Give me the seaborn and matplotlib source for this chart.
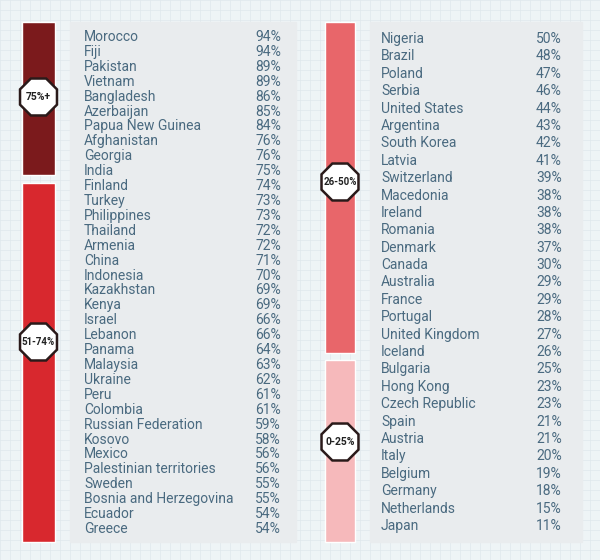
import matplotlib
matplotlib.use("Agg")
import matplotlib.pyplot as plt
import seaborn as sns
from matplotlib.patches import RegularPolygon, Rectangle

left_countries = ["Morocco","Fiji","Pakistan","Vietnam","Bangladesh","Azerbaijan","Papua New Guinea",
    "Afghanistan","Georgia","India","Finland","Turkey","Philippines","Thailand","Armenia","China",
    "Indonesia","Kazakhstan","Kenya","Israel","Lebanon","Panama","Malaysia","Ukraine","Peru","Colombia",
    "Russian Federation","Kosovo","Mexico","Palestinian territories","Sweden","Bosnia and Herzegovina",
    "Ecuador","Greece"]
left_values = [94,94,89,89,86,85,84,76,76,75,74,73,73,72,72,71,70,69,69,66,66,64,63,62,61,61,59,58,56,56,55,55,54,54]
right_countries = ["Nigeria","Brazil","Poland","Serbia","United States","Argentina","South Korea","Latvia",
    "Switzerland","Macedonia","Ireland","Romania","Denmark","Canada","Australia","France","Portugal",
    "United Kingdom","Iceland","Bulgaria","Hong Kong","Czech Republic","Spain","Austria","Italy",
    "Belgium","Germany","Netherlands","Japan"]
right_values = [50,48,47,46,44,43,42,41,39,38,38,38,37,30,29,29,28,27,26,25,23,23,21,21,20,19,18,15,11]
band_labels = ["75%+","51-74%","26-50%","0-25%"]
band_colors = ["#7b1a1c","#d8282e","#e8666a","#f6b9bb"]

sns.set_theme(style="white")
fig = plt.figure(figsize=(6,5.6), dpi=100)
fig.patch.set_facecolor("#eef4f6")
ax = fig.add_axes([0,0,1,1])
ax.set_xlim(0,600); ax.set_ylim(560,0); ax.axis("off")
ax.set_facecolor("#eef4f6")

for g in range(0,600,10):
    ax.axvline(g,color="#dfe8ec",lw=0.5,zorder=0)
for g in range(0,560,10):
    ax.axhline(g,color="#dfe8ec",lw=0.5,zorder=0)

ax.add_patch(Rectangle((70,22),226,520,color="#e9ecee",zorder=1))
ax.add_patch(Rectangle((370,22),212,520,color="#e9ecee",zorder=1))

txt = "#4a6a80"
fam = "Roboto"
def rows(countries, values, x0, x1, y0, dy):
    for i,(c,v) in enumerate(zip(countries,values)):
        y = y0 + i*dy
        ax.text(x0,y,c,va="center",ha="left",color=txt,fontsize=10,family=fam,zorder=3)
        ax.text(x1,y,f"{v}%",va="center",ha="right",color=txt,fontsize=10,family=fam,zorder=3)
rows(left_countries,left_values,84,281,37,(529-37)/33)
rows(right_countries,right_values,381,562,39,(526-39)/28)

bars = [(22,22,153),(22,183,359),(325,22,331),(325,360,182)]
widths = [33,33,30,30]
for (x,y,h),w,col in zip(bars,widths,band_colors):
    ax.bar(x+w/2,h,width=w,bottom=y,color=col,zorder=2)
badges = [(38.5,97),(38.5,342),(340,182),(340,442)]
for (bx,by),lab in zip(badges,band_labels):
    ax.add_patch(RegularPolygon((bx,by),8,radius=20,orientation=0.3927,facecolor="white",
        edgecolor="#2a1a1a",lw=1.8,zorder=4))
    ax.text(bx,by,lab,ha="center",va="center",fontsize=7 if len(lab)>5 else 7.5,
        fontweight="bold",color="#222222",family=fam,zorder=5)
fig.savefig("out.png",dpi=100)
